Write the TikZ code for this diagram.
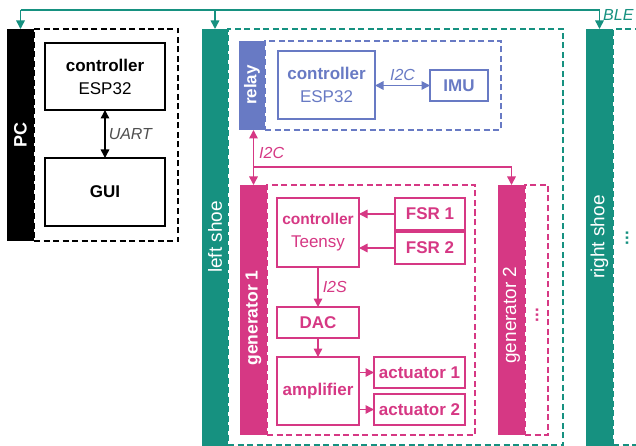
\documentclass[tikz,border=0pt]{standalone}
\usepackage{fontspec}
\setmainfont{Liberation Sans}
\usetikzlibrary{arrows.meta,calc}
\definecolor{cgreen}{RGB}{22,145,128}
\definecolor{cblue}{RGB}{104,122,196}
\definecolor{cpink}{RGB}{214,56,132}
\definecolor{cgray}{RGB}{80,80,80}
\newcommand{\bx}[7]{\node[#1,minimum width={#5-#3},minimum height={#6-#4}] (#2) at ({(#3+#5)/2},{(#4+#6)/2}) {#7};}
\tikzset{
  base/.style={inner sep=0pt,outer sep=0pt,line width=1.4pt,align=center,font=\fontsize{17}{23}\selectfont},
  dbox/.style={base,draw,dash pattern=on 6pt off 3.5pt},
  sbox/.style={base,draw},
  bar/.style={base,fill=#1,draw=none},
  barlab/.style={text=white,rotate=90,font=\fontsize{19}{23}\selectfont,inner sep=0pt},
  conn/.style={line width=1.5pt,-{Triangle[length=8.5pt,width=8.5pt]}},
  bconn/.style={line width=1.5pt,{Triangle[length=8.5pt,width=8.5pt]}-{Triangle[length=8.5pt,width=8.5pt]}},
  lab/.style={font=\itshape\fontsize{16}{19}\selectfont,inner sep=0pt},
}
\begin{document}
\begin{tikzpicture}[x=1pt,y=-1pt]
\useasboundingbox (0,0) rectangle (636,446);
\clip (0,0) rectangle (636,446);
\fill[white] (0,0) rectangle (636,446);
% dashed containers
\bx{dbox,draw=black}{pcbox}{34}{29}{178}{241}{}
\bx{dbox,draw=cgreen}{lsbox}{228}{29}{563}{445}{}
\bx{dbox,draw=cgreen}{rsbox}{613}{29}{680}{445}{}
\bx{dbox,draw=cblue}{relaybox}{265}{41}{501}{130}{}
\bx{dbox,draw=cpink}{g1box}{267}{185}{475}{435}{}
\bx{dbox,draw=cpink}{g2box}{525}{185}{548}{435}{}
% bars
\bx{bar=black}{pcbar}{7}{29}{34}{241}{}
\bx{bar=cgreen}{lsbar}{202}{29}{228}{460}{}
\bx{bar=cgreen}{rsbar}{586}{29}{613}{460}{}
\bx{bar=cblue}{relaybar}{239}{41}{265}{130}{}
\bx{bar=cpink}{g1bar}{240}{185}{267}{435}{}
\bx{bar=cpink}{g2bar}{498}{185}{525}{435}{}
\node[barlab,font=\bfseries\fontsize{18}{23}\selectfont] (pclab) at (20.5,135) {PC};
\node[barlab] (lslab) at (215,237) {left shoe};
\node[barlab] (rslab) at (599.5,237) {right shoe};
\node[barlab,font=\bfseries\fontsize{17}{23}\selectfont] (relaylab) at (252,85) {relay};
\node[barlab,font=\bfseries\fontsize{17.5}{23}\selectfont] (g1lab) at (253.5,318) {generator 1};
\node[barlab] (g2lab) at (511.5,315) {generator 2};
\node[rotate=90,text=cpink,font=\bfseries\fontsize{17}{20}\selectfont,inner sep=0pt] (g2dots) at (537,315) {...};
\node[rotate=90,text=cgreen,font=\bfseries\fontsize{17}{20}\selectfont,inner sep=0pt] (rsdots) at (627,238) {...};
% PC boxes
\bx{sbox,draw=black}{pcctrl}{45}{43}{165}{110}{\textbf{controller}\\ESP32}
\bx{sbox,draw=black}{gui}{45}{158}{165}{226}{\textbf{GUI}}
\draw[bconn,black] (pcctrl.south -| 105,0) -- (gui.north -| 105,0) node[midway,right=3pt,lab,text=cgray] (uart) {UART};
% relay
\bx{sbox,draw=cblue,text=cblue}{bctrl}{278}{51}{375}{119}{\textbf{controller}\\ESP32}
\bx{sbox,draw=cblue,text=cblue}{imu}{430}{70}{488}{101}{\textbf{IMU}}
\draw[bconn,cblue] (bctrl.east |- imu.west) -- (imu.west) node[midway,above=4pt,lab,text=cblue] (i2cb) {I2C};
% generator 1
\bx{sbox,draw=cpink,text=cpink}{tctrl}{277}{198}{359}{267}{{\fontsize{15.5}{23}\selectfont\textbf{controller}}\\Teensy}
\bx{sbox,draw=cpink,text=cpink}{fsr1}{395}{198}{465}{230}{\textbf{FSR 1}}
\bx{sbox,draw=cpink,text=cpink}{fsr2}{395}{232}{465}{264}{\textbf{FSR 2}}
\bx{sbox,draw=cpink,text=cpink}{dac}{277}{307}{359}{338}{\textbf{DAC}}
\bx{sbox,draw=cpink,text=cpink}{amp}{277}{357}{359}{425}{\textbf{amplifier}}
\bx{sbox,draw=cpink,text=cpink}{act1}{374}{357}{465}{388}{\textbf{actuator 1}}
\bx{sbox,draw=cpink,text=cpink}{act2}{374}{394}{465}{425}{\textbf{actuator 2}}
\draw[conn,cpink] (fsr1.west) -- (tctrl.east |- fsr1.west);
\draw[conn,cpink] (fsr2.west) -- (tctrl.east |- fsr2.west);
\draw[conn,cpink] (tctrl.south) -- (dac.north) node[midway,right=4pt,lab,text=cpink] (i2s) {I2S};
\draw[conn,cpink] (dac.south) -- (amp.north);
\draw[conn,cpink] (amp.east |- act1.west) -- (act1.west);
\draw[conn,cpink] (amp.east |- act2.west) -- (act2.west);
% I2C bus
\coordinate (busy) at (0,167);
\draw[bconn,cpink] (relaybar.south -| g1bar.north) -- (g1bar.north);
\draw[conn,cpink] (g1bar.north |- busy) -| (g2bar.north);
\node[lab,text=cpink,anchor=west] (i2cp) at (259,153) {I2C};
% BLE bus
\coordinate (topy) at (0,10);
\draw[line width=1.5pt,cgreen] (pcbar.north |- topy) -- (rsbar.north |- topy);
\draw[conn,cgreen] (pcbar.north |- topy) -- (pcbar.north);
\draw[conn,cgreen] (lsbar.north |- topy) -- (lsbar.north);
\draw[conn,cgreen] (rsbar.north |- topy) -- (rsbar.north);
\node[lab,text=cgreen,anchor=west] (ble) at (603,15) {BLE};
\end{tikzpicture}
\end{document}
